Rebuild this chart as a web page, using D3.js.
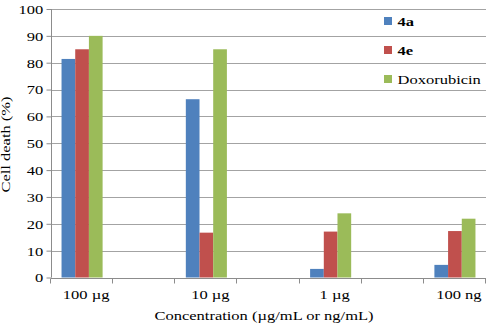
<!DOCTYPE html>
<html>
<head>
<meta charset="utf-8">
<script src="https://cdn.jsdelivr.net/npm/d3@7"></script>
<style>
  body { margin: 0; background: #fff; }
  svg { display: block; }
  text { font-family: "Liberation Serif", "Times New Roman", serif; fill: #000; }
</style>
</head>
<body>
<div id="chart-area"></div>
<script>
// data
const categories = ["100 µg", "10 µg", "1 µg", "100 ng"];
const seriesNames = ["4a", "4e", "Doxorubicin"];
const values4a = [81.4, 66.4, 3.2, 4.7];
const values4e = [85.0, 16.7, 17.1, 17.3];
const valuesDox = [90.0, 85.0, 23.9, 21.9];
const yTicks = [0, 10, 20, 30, 40, 50, 60, 70, 80, 90, 100];

const colors = ["#4F81BD", "#C0504D", "#9BBB59"];
const stretch = 1.27; // glyphs in the reference are wider than Liberation Serif
const fontSize = 13;

const W = 486, H = 326;
const plot = {left: 51, right: 486, top: 9, bottom: 277.5};

const svg = d3.select("#chart-area")
    .append("svg")
    .attr("width", W)
    .attr("height", H);

// the x axis has 7 slots: a category, an empty slot, a category ...
const slots = d3.range(categories.length * 2 - 1);
const slotLabel = i => (i % 2 === 0 ? categories[i / 2] : "");

const x = d3.scaleBand()
    .domain(slots)
    .range([plot.left, plot.right])
    .padding(0);

const xInner = d3.scaleBand()
    .domain(seriesNames)
    .range([0, x.bandwidth()])
    .paddingInner(0)
    .paddingOuter(0.77);

const y = d3.scaleLinear()
    .domain([0, 100])
    .range([plot.bottom, plot.top]);

// gridlines
svg.append("g")
    .selectAll("line")
    .data(yTicks.filter(d => d > 0))
    .join("line")
    .attr("x1", plot.left)
    .attr("x2", plot.right)
    .attr("y1", d => Math.round(y(d)) + 0.5)
    .attr("y2", d => Math.round(y(d)) + 0.5)
    .attr("stroke", "#a3a3a3")
    .attr("stroke-width", 1);

// bars
const table = categories.map((c, i) => ({
    slot: i * 2,
    values: [values4a[i], values4e[i], valuesDox[i]]
}));

svg.append("g")
    .selectAll("g")
    .data(table)
    .join("g")
    .attr("transform", d => `translate(${x(d.slot)},0)`)
    .selectAll("rect")
    .data(d => d.values.map((v, j) => ({name: seriesNames[j], value: v, color: colors[j]})))
    .join("rect")
    .attr("x", d => xInner(d.name))
    .attr("width", xInner.bandwidth())
    .attr("y", d => y(d.value))
    .attr("height", d => y(0) - y(d.value))
    .attr("fill", d => d.color);

// y axis
const yAxis = d3.axisLeft(y)
    .tickValues(yTicks)
    .tickSize(5)
    .tickPadding(0);

const yg = svg.append("g")
    .attr("transform", `translate(${plot.left + 0.5},0)`)
    .call(yAxis);
yg.select(".domain").attr("stroke", "#8c8c8c").attr("d", `M0,${plot.top}V${plot.bottom}`);
yg.selectAll(".tick line").attr("stroke", "#8c8c8c");
yg.selectAll(".tick text")
    .attr("font-family", null)
    .attr("font-size", fontSize)
    .attr("x", -8.3 / stretch)
    .attr("dy", "0.34em")
    .attr("transform", `scale(${stretch},1)`);

// x axis
const xAxis = d3.axisBottom(x)
    .tickSize(0)
    .tickPadding(11.3)
    .tickFormat(slotLabel);

const xg = svg.append("g")
    .attr("transform", `translate(0,${Math.round(plot.bottom) + 0.5})`)
    .call(xAxis);
xg.select(".domain").attr("stroke", "#8c8c8c").attr("d", `M${plot.left},0H${plot.right}`);
xg.selectAll(".tick").filter(d => slotLabel(d) === "").remove();
xg.selectAll(".tick text")
    .attr("font-family", null)
    .attr("font-size", fontSize)
    .attr("x", 4 / stretch)
    .attr("transform", `scale(${stretch},1)`);

// tick marks at the slot edges
const edges = slots.map(s => x(s)).concat([plot.right]);
xg.append("g")
    .selectAll("line")
    .data(edges)
    .join("line")
    .attr("x1", d => Math.round(d) - 0.5)
    .attr("x2", d => Math.round(d) - 0.5)
    .attr("y1", 0)
    .attr("y2", 5)
    .attr("stroke", "#8c8c8c");

// axis titles
svg.append("text")
    .attr("transform", `translate(264,319.5) scale(${stretch},1)`)
    .attr("text-anchor", "middle")
    .attr("font-size", fontSize)
    .text("Concentration (µg/mL or ng/mL)");

svg.append("text")
    .attr("transform", `translate(10,144.5) rotate(-90) scale(${stretch},1)`)
    .attr("text-anchor", "middle")
    .attr("font-size", fontSize)
    .text("Cell death (%)");

// legend
const legend = svg.append("g")
    .selectAll("g")
    .data(seriesNames)
    .join("g")
    .attr("transform", (d, i) => `translate(384,${21 + i * 29})`);

legend.append("rect")
    .attr("x", 0)
    .attr("y", -4)
    .attr("width", 8)
    .attr("height", 8)
    .attr("fill", (d, i) => colors[i]);

legend.append("text")
    .attr("transform", `translate(13.5,4.5) scale(${stretch},1)`)
    .attr("font-size", fontSize)
    .attr("font-weight", d => (d === "Doxorubicin" ? "normal" : "bold"))
    .text(d => d);
</script>
</body>
</html>
